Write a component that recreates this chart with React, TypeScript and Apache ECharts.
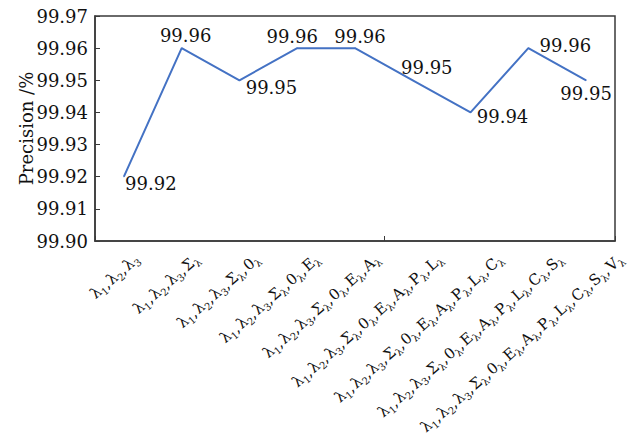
import React, { useEffect, useRef } from 'react';
import * as echarts from 'echarts';

// Feature combinations (first character of each term is the symbol, the rest its subscript)
const categories = [
  'λ1,λ2,λ3',
  'λ1,λ2,λ3,Σλ',
  'λ1,λ2,λ3,Σλ,0λ',
  'λ1,λ2,λ3,Σλ,0λ,Eλ',
  'λ1,λ2,λ3,Σλ,0λ,Eλ,Aλ',
  'λ1,λ2,λ3,Σλ,0λ,Eλ,Aλ,Pλ,Lλ',
  'λ1,λ2,λ3,Σλ,0λ,Eλ,Aλ,Pλ,Lλ,Cλ',
  'λ1,λ2,λ3,Σλ,0λ,Eλ,Aλ,Pλ,Lλ,Cλ,Sλ',
  'λ1,λ2,λ3,Σλ,0λ,Eλ,Aλ,Pλ,Lλ,Cλ,Sλ,Vλ',
];

const precision = [99.92, 99.96, 99.95, 99.96, 99.96, 99.95, 99.94, 99.96, 99.95];

const Y_MIN = 99.9;
const Y_MAX = 99.97;
const Y_STEP = 0.01;

// Where each value label sits relative to its point (px)
const labelOffsets: [number, number][] = [
  [27, 7], [4, -13], [32, 7], [-5, -12], [5, -12], [14, -13], [32, 4], [37, -3], [0, 13],
];

const SERIF = '"DejaVu Serif", "Liberation Serif", serif';
const INK = '#111111';
const FRAME = '#3a3a3a';
const LINE_BLUE = '#4472c4';

const subRich = {
  m: { fontSize: 15, fontFamily: SERIF, color: INK, lineHeight: 20, verticalAlign: 'middle' },
  c: { fontSize: 15, fontFamily: SERIF, color: INK, lineHeight: 20, verticalAlign: 'middle', padding: [0, 1, 0, 0] },
  s: { fontSize: 10, fontFamily: SERIF, color: INK, lineHeight: 10, verticalAlign: 'bottom' },
};

function formatCombo(label: string): string {
  return label
    .split(',')
    .map((t) => `{m|${t[0]}}{s|${t.slice(1)}}`)
    .join('{c|,}');
}

export default function App() {
  const ref = useRef<HTMLDivElement>(null);

  useEffect(() => {
    if (!ref.current) return;
    const chart = echarts.init(ref.current, undefined, { renderer: 'svg' });

    chart.setOption({
      animation: false,
      backgroundColor: '#ffffff',
      grid: {
        left: 95,
        right: 17,
        top: 16,
        bottom: 205,
        show: true,
        borderColor: FRAME,
        borderWidth: 1.5,
      },
      xAxis: {
        type: 'category',
        data: categories,
        boundaryGap: true,
        axisLine: { show: true, lineStyle: { color: FRAME, width: 1.5 } },
        axisTick: { show: true, inside: true, length: 5, lineStyle: { color: FRAME } },
        axisLabel: { show: false },
        splitLine: { show: false },
      },
      yAxis: {
        type: 'value',
        min: Y_MIN,
        max: Y_MAX,
        interval: Y_STEP,
        name: 'Precision /%',
        nameLocation: 'middle',
        nameGap: 60,
        nameMoveOverlap: false,
        nameTextStyle: { fontFamily: SERIF, fontSize: 18, color: INK },
        axisLine: { show: true, lineStyle: { color: FRAME, width: 1.5 } },
        axisTick: { show: true, inside: true, length: 5, lineStyle: { color: FRAME } },
        axisLabel: {
          fontFamily: SERIF,
          fontSize: 18,
          color: INK,
          margin: 7,
          formatter: (v: number) => v.toFixed(2),
        },
        splitLine: { show: false },
      },
      series: [
        {
          type: 'line',
          data: precision.map((v, i) => ({
            value: v,
            label: { offset: labelOffsets[i] },
          })),
          symbol: 'circle',
          symbolSize: 1,
          showSymbol: true,
          lineStyle: { color: LINE_BLUE, width: 2 },
          itemStyle: { color: LINE_BLUE },
          label: {
            show: true,
            position: 'inside',
            fontFamily: SERIF,
            fontSize: 18,
            color: INK,
            formatter: (p: any) => Number(p.value).toFixed(2),
          },
        },
      ],
    });

    // Rotated category labels with subscripts, anchored below each category slot
    const axisY = chart.convertToPixel({ yAxisIndex: 0 }, Y_MIN) as number;
    const angle = (41 * Math.PI) / 180;
    const graphics = categories.map((c) => {
      const cx = chart.convertToPixel({ xAxisIndex: 0 }, c) as number;
      const terms = c.split(',').length;
      return {
        type: 'text',
        x: cx + 13 + 2.45 * (terms - 3),
        y: axisY + 16,
        rotation: angle,
        style: {
          text: formatCombo(c),
          rich: subRich,
          align: 'right',
          verticalAlign: 'middle',
          fill: INK,
        },
      };
    });
    chart.setOption({ graphic: graphics });

    return () => chart.dispose();
  }, []);

  return (
    <div
      ref={ref}
      style={{ position: 'absolute', left: 0, top: 0, width: 632, height: 446 }}
    />
  );
}
